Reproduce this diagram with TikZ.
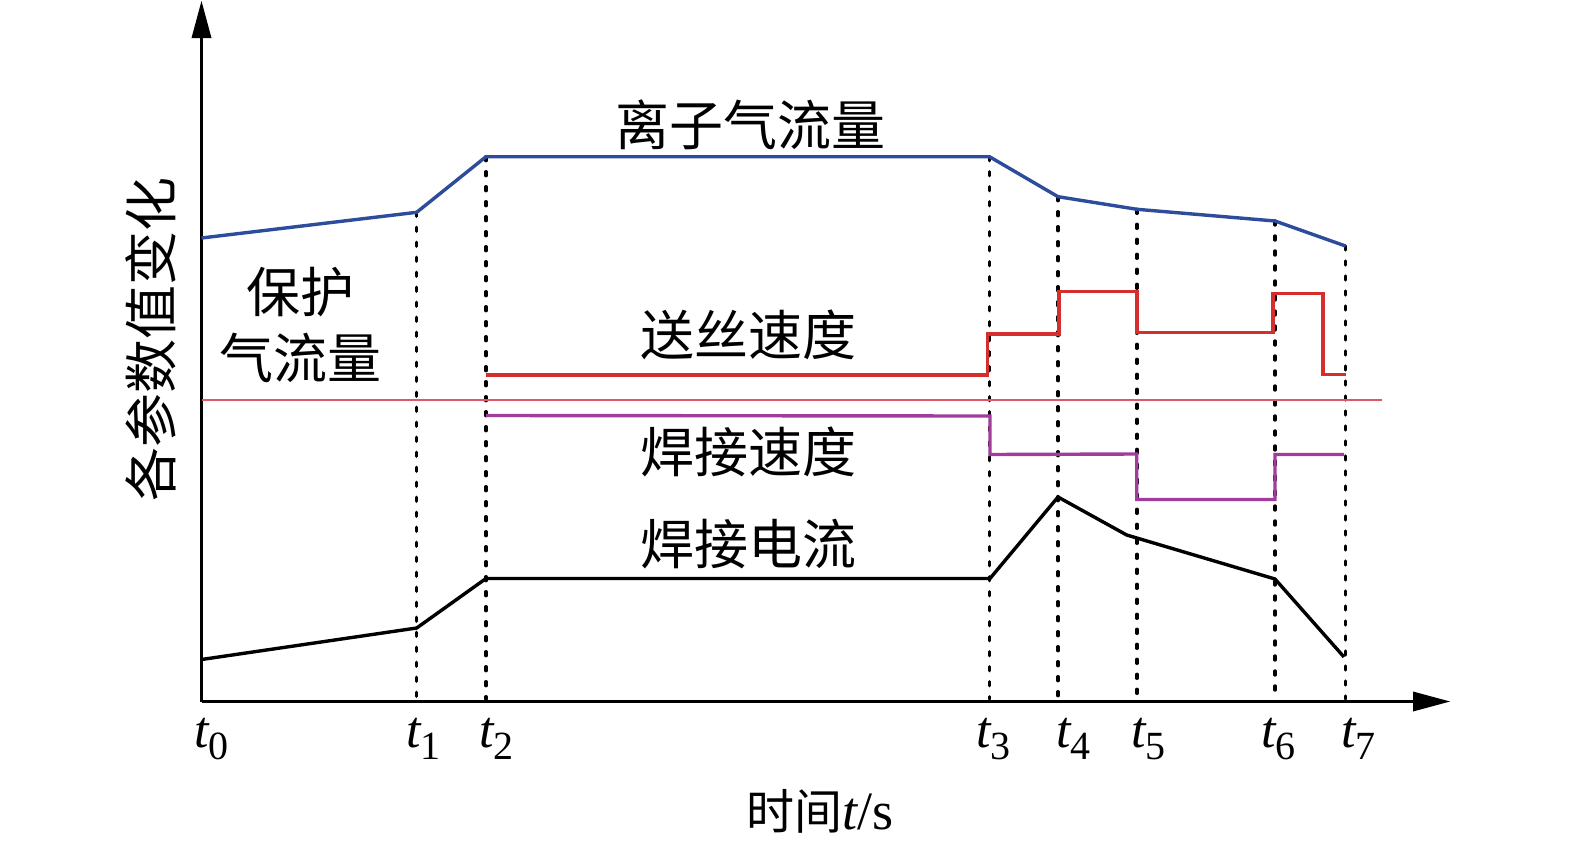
\documentclass[tikz,border=0pt]{standalone}
\usepackage{fontspec}
\setmainfont{Liberation Serif}
\newfontfamily\cjk{Noto Sans CJK SC}
\begin{document}
\begin{tikzpicture}[x=1pt,y=-1pt,
  axisline/.style={line width=3.2pt,black},
  curve/.style={line width=3.4pt,line join=miter},
  guide/.style={line width=3.4pt,black,line cap=round,dash pattern=on 4pt off 11pt},
  cjklabel/.style={inner sep=0pt,font=\cjk\fontsize{54}{54}\selectfont},
  tlabel/.style={inner sep=0pt,anchor=base west,font=\fontsize{52}{52}\selectfont}]
\definecolor{cblue}{HTML}{2D4C9C}
\definecolor{cred}{HTML}{D42E2E}
\definecolor{cmag}{HTML}{A03C9C}
\definecolor{cpink}{HTML}{E0566A}
\useasboundingbox (0,0) rectangle (1575,849);
\fill[white] (0,0) rectangle (1575,849);
% axes
\coordinate (O) at (201.5,701.5);
\coordinate (ytip) at (201.5,1);
\coordinate (xtip) at (1450,701.5);
\draw[axisline] (O) -- (201.5,37);
\draw[axisline] (O) -- (1414,701.5);
\fill[black] (ytip) -- (191.5,38) -- (211.5,38) -- cycle;
\fill[black] (xtip) -- (1413,691.5) -- (1413,711.5) -- cycle;
% time points on blue curve
\coordinate (b0) at (201.5,238);
\coordinate (b1) at (416.7,212.3);
\coordinate (b2) at (486,156.7);
\coordinate (b3) at (989.5,156.7);
\coordinate (b4) at (1058,196.7);
\coordinate (b5) at (1137,209.3);
\coordinate (b6) at (1275,221);
\coordinate (b7) at (1345.5,246);
% guides
\foreach \p/\x in {b1/416.7,b2/486,b3/989.5,b4/1058,b5/1137,b6/1275,b7/1345.5}
  \draw[guide] (\p) -- (\x,699);
% pink reference line
\draw[cpink,line width=2.4pt] (201.5,400) -- (1381.5,400);
% ion gas flow (blue)
\draw[curve,cblue] (b0) -- (b1) -- (b2) -- (b3) -- (b4) -- (b5) -- (b6) -- (b7);
% wire feed speed (red)
\draw[curve,cred] (486,375) -- (987.5,375) -- (987.5,334) -- (1059,334) -- (1059,291.5)
  -- (1137,291.5) -- (1137,332.5) -- (1273,332.5) -- (1273,293.5) -- (1323,293.5)
  -- (1323,374.5) -- (1346,374.5);
% welding speed (magenta)
\draw[curve,cmag] (486,415.5) -- (990,416) -- (990,454.5) -- (1136.7,454) -- (1136.7,499.5)
  -- (1275,499.5) -- (1275,454.5) -- (1344,454.5);
% welding current (black)
\draw[curve,black] (201.5,659.5) -- (416.7,628) -- (486,578.5) -- (990,578.5) -- (1058,497)
  -- (1126.7,535) -- (1275,579) -- (1344,657);
% labels
\node[cjklabel] (lion) at (750,125) {离子气流量};
\node[cjklabel] (lwire) at (748,335) {送丝速度};
\node[cjklabel] (lspeed) at (748,452) {焊接速度};
\node[cjklabel] (lcur) at (748,544) {焊接电流};
\node[cjklabel] (lsh1) at (300,292) {保护};
\node[cjklabel] (lsh2) at (300,358) {气流量};
\node[cjklabel,rotate=90] (ylab) at (151,339) {各参数值变化};
\node[inner sep=0pt,anchor=base] (xlab) at (820,829) {{\cjk\fontsize{48}{48}\selectfont 时间}{\fontsize{54}{54}\selectfont\itshape t}{\fontsize{54}{54}\selectfont /s}};
\foreach \n/\x/\s in {t0/194/0,t1/406/1,t2/479/2,t3/976/3,t4/1056/4,t5/1131/5,t6/1261/6,t7/1341/7}
  \node[tlabel] (\n) at (\x,747) {\itshape t\raisebox{-12pt}{\upshape\fontsize{40}{40}\selectfont \s}};
\end{tikzpicture}
\end{document}
